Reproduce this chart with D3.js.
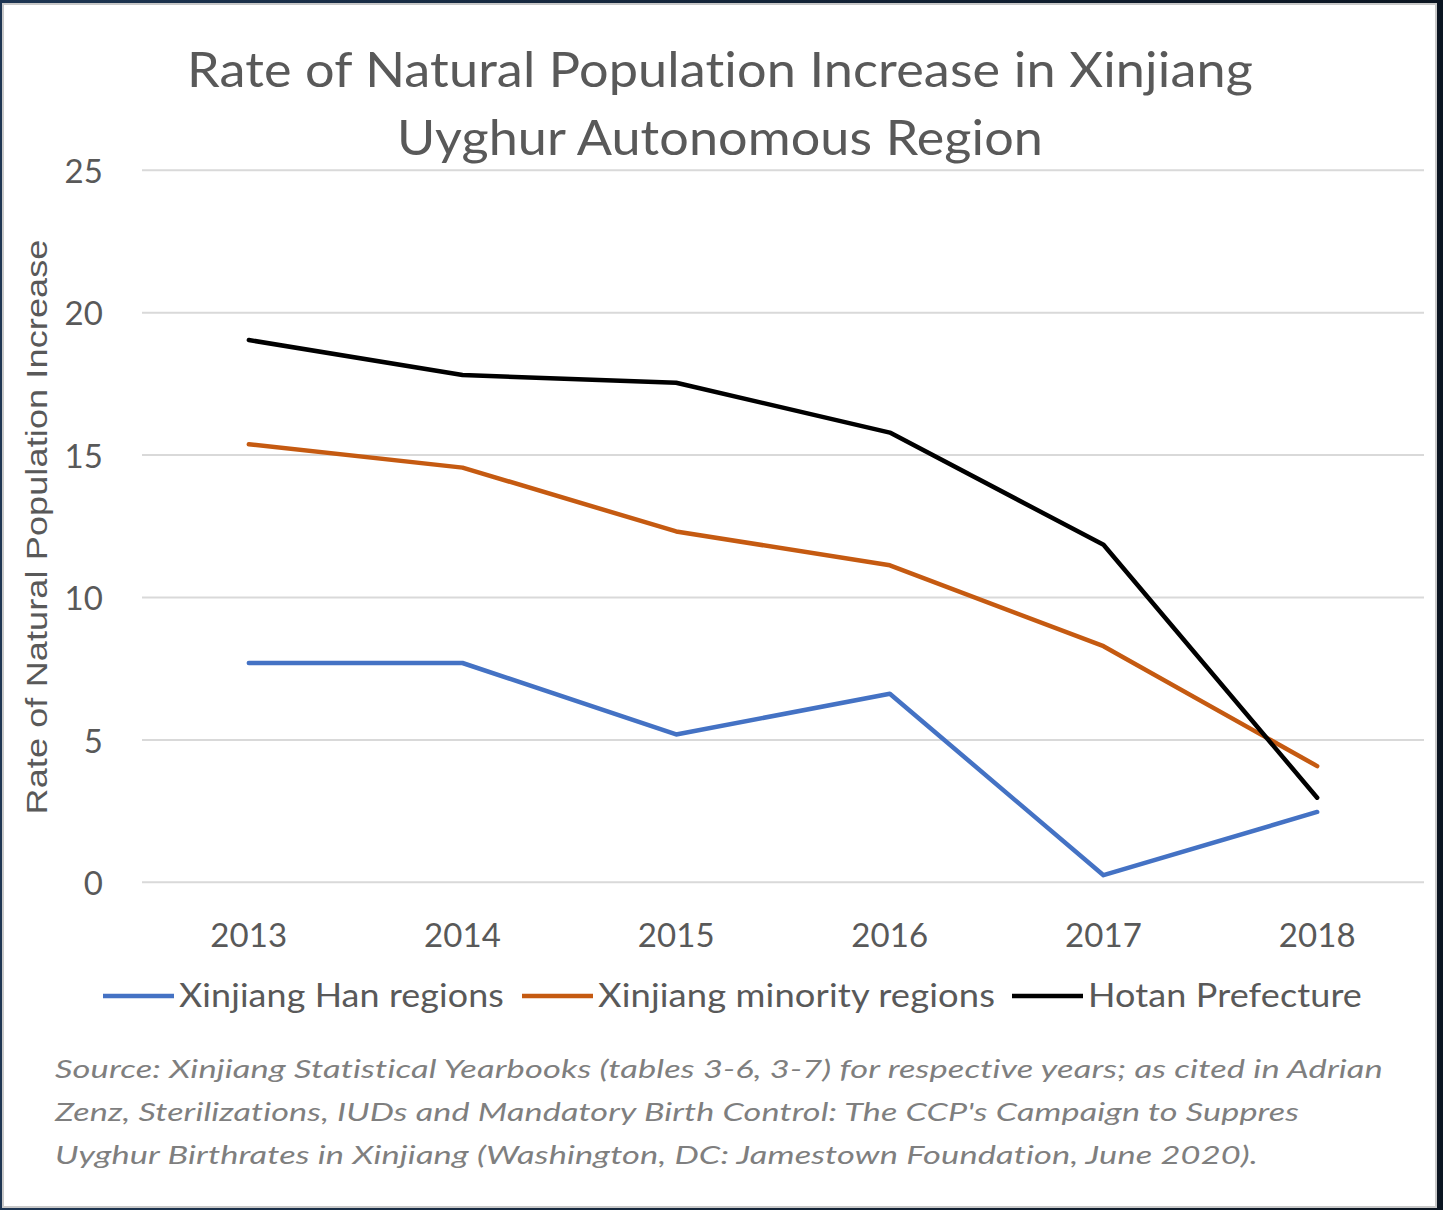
<!DOCTYPE html>
<html>
<head>
<meta charset="utf-8">
<script src="https://cdn.jsdelivr.net/npm/d3@7"></script>
<style>
  html, body { margin: 0; padding: 0; background: #13243a; }
  svg { display: block; }
  text { font-variant-ligatures: none; letter-spacing: 0.1px; }
</style>
</head>
<body>
<svg id="svg"></svg>
<script>
// values
const years = ['2013', '2014', '2015', '2016', '2017', '2018'];
const hanRegions = [7.70, 7.70, 5.19, 6.62, 0.25, 2.47];
const minorityRegions = [15.38, 14.56, 12.32, 11.13, 8.29, 4.08];
const hotan = [19.04, 17.81, 17.54, 15.79, 11.85, 2.97];
const yTicks = [0, 5, 10, 15, 20, 25];

const seriesNames = ['Xinjiang Han regions', 'Xinjiang minority regions', 'Hotan Prefecture'];
const seriesColors = ['#4472C4', '#C55A11', '#000000'];

const titleLines = ['Rate of Natural Population Increase in Xinjiang', 'Uyghur Autonomous Region'];
const yTitle = 'Rate of Natural Population Increase';
const sourceLines = [
  "Source:  Xinjiang Statistical  Yearbooks (tables 3-6, 3-7) for respective  years;  as cited  in Adrian",
  "Zenz, Sterilizations,  IUDs and Mandatory Birth  Control:  The CCP's Campaign to Suppres",
  "Uyghur Birthrates  in Xinjiang (Washington, DC: Jamestown  Foundation, June 2020)."
];

const width = 1443;
const height = 1210;
const textColor = '#595959';
const font = 'Lato, "Open Sans", sans-serif';

const svg = d3.select('#svg')
  .attr('width', width)
  .attr('height', height);

// dark frame behind the white panel
const defs = svg.append('defs');
const grad = defs.append('linearGradient')
  .attr('id', 'bg')
  .attr('x1', 0).attr('y1', 0).attr('x2', 1).attr('y2', 0);
grad.append('stop').attr('offset', '0%').attr('stop-color', '#1d3552');
grad.append('stop').attr('offset', '100%').attr('stop-color', '#0b1521');

svg.append('rect')
  .attr('width', width)
  .attr('height', height)
  .attr('fill', 'url(#bg)');

svg.append('rect')
  .attr('x', 3)
  .attr('y', 4)
  .attr('width', 1433)
  .attr('height', 1203)
  .attr('fill', '#ffffff')
  .attr('stroke', '#c8c8c8')
  .attr('stroke-width', 2);

// scales
const xScale = d3.scaleBand()
  .domain(years)
  .range([142, 1424]);

const yScale = d3.scaleLinear()
  .domain([0, 25])
  .range([882.3, 170.3]);

// title
const titleWidths = [1066, 646];
svg.selectAll('.chart-title')
  .data(titleLines)
  .enter()
  .append('text')
  .attr('class', 'chart-title')
  .attr('x', 720)
  .attr('y', (d, i) => 87 + i * 68)
  .attr('text-anchor', 'middle')
  .attr('font-family', font)
  .attr('font-size', '48px')
  .attr('fill', textColor)
  .attr('textLength', (d, i) => titleWidths[i])
  .attr('lengthAdjust', 'spacingAndGlyphs')
  .text(d => d);

// gridlines
const g = svg.append('g');

g.selectAll('.grid')
  .data(yTicks)
  .enter()
  .append('line')
  .attr('class', 'grid')
  .attr('x1', xScale.range()[0])
  .attr('x2', xScale.range()[1])
  .attr('y1', d => yScale(d))
  .attr('y2', d => yScale(d))
  .attr('stroke', '#d9d9d9')
  .attr('stroke-width', 2);

// y axis labels
const yAxis = d3.axisLeft(yScale)
  .tickValues(yTicks)
  .tickSize(0)
  .tickPadding(0);

g.append('g')
  .attr('transform', 'translate(103,0)')
  .call(yAxis)
  .call(s => s.select('.domain').remove())
  .selectAll('text')
  .attr('font-family', font)
  .attr('font-size', '33px')
  .attr('fill', textColor)
  .attr('dy', '0.37em');

// x axis labels
const xAxis = d3.axisBottom(xScale)
  .tickSize(0)
  .tickPadding(0);

g.append('g')
  .attr('transform', 'translate(0,922)')
  .call(xAxis)
  .call(s => s.select('.domain').remove())
  .selectAll('text')
  .attr('font-family', font)
  .attr('font-size', '33px')
  .attr('fill', textColor)
  .attr('dy', '0.75em');

// y axis title
svg.append('text')
  .attr('transform', 'translate(47,527) rotate(-90)')
  .attr('text-anchor', 'middle')
  .attr('font-family', '"Liberation Sans", Arial, sans-serif')
  .attr('font-size', '30px')
  .attr('fill', textColor)
  .attr('textLength', 575)
  .attr('lengthAdjust', 'spacingAndGlyphs')
  .text(yTitle);

// lines
const series = [hanRegions, minorityRegions, hotan];
const line = d3.line()
  .x((d, i) => xScale(years[i]) + xScale.bandwidth() / 2)
  .y(d => yScale(d));

g.selectAll('.series')
  .data(series)
  .enter()
  .append('path')
  .attr('class', 'series')
  .attr('d', d => line(d))
  .attr('fill', 'none')
  .attr('stroke', (d, i) => seriesColors[i])
  .attr('stroke-width', 4.5)
  .attr('stroke-linejoin', 'round')
  .attr('stroke-linecap', 'round');

// legend
const legendStart = [103, 522, 1012];
const legendTextWidth = [325, 397, 274];
const legend = svg.append('g');

const items = legend.selectAll('.legend-item')
  .data(seriesNames)
  .enter()
  .append('g')
  .attr('class', 'legend-item')
  .attr('transform', (d, i) => `translate(${legendStart[i]},996)`);

items.append('line')
  .attr('x1', 0)
  .attr('x2', 71)
  .attr('stroke', (d, i) => seriesColors[i])
  .attr('stroke-width', 4.5);

items.append('text')
  .attr('x', 76)
  .attr('y', 11)
  .attr('font-family', font)
  .attr('font-size', '32px')
  .attr('fill', textColor)
  .attr('textLength', (d, i) => legendTextWidth[i])
  .attr('lengthAdjust', 'spacingAndGlyphs')
  .text(d => d);

// source note
const sourceWidths = [1328, 1244, 1203];
svg.selectAll('.source')
  .data(sourceLines)
  .enter()
  .append('text')
  .attr('class', 'source')
  .attr('x', 55)
  .attr('y', (d, i) => 1078 + i * 43)
  .attr('font-family', font)
  .attr('font-style', 'italic')
  .attr('font-size', '26px')
  .attr('fill', '#7f7f7f')
  .attr('textLength', (d, i) => sourceWidths[i])
  .attr('lengthAdjust', 'spacingAndGlyphs')
  .text(d => d);
</script>
</body>
</html>
